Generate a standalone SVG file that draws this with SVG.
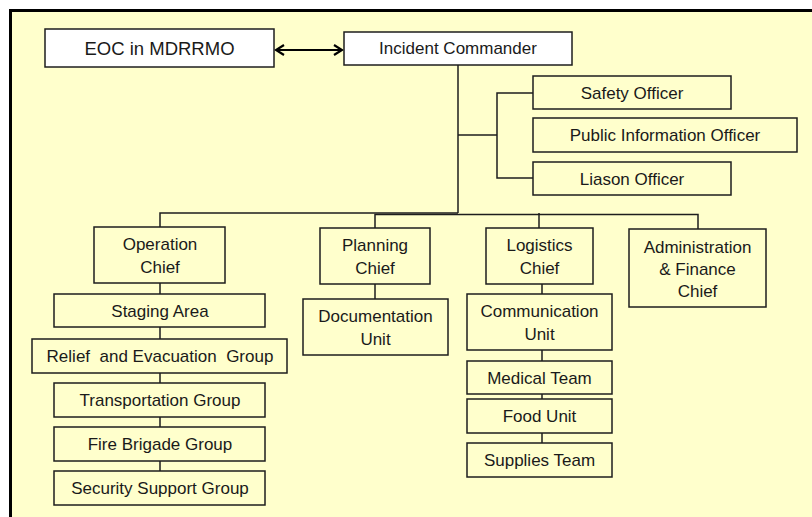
<svg xmlns="http://www.w3.org/2000/svg" width="812" height="517" viewBox="0 0 812 517">
  <style>
    .box { stroke: #1e1e1e; stroke-width: 1.5; }
    .w { fill: #ffffff; }
    .y { fill: #ffffcc; }
    .lbl { font-family: "Liberation Sans", Arial, sans-serif; font-size: 17px; fill: #1a1a1a; text-anchor: middle; }
    .big { font-size: 18.5px; }
    .conn { fill: none; stroke: #1e1e1e; stroke-width: 1.5; }
  </style>
  <defs>
    <marker id="chev" viewBox="0 0 12 12" refX="10" refY="6" markerWidth="12" markerHeight="12" markerUnits="userSpaceOnUse" orient="auto-start-reverse">
      <path d="M2,1 L10,6 L2,11" fill="none" stroke="#000" stroke-width="2.2"/>
    </marker>
  </defs>

  <!-- page background and frame -->
  <rect x="0" y="0" width="812" height="517" fill="#ffffff"/>
  <rect x="10.5" y="10.5" width="820" height="520" fill="#ffffcc" stroke="#000" stroke-width="3"/>

  <!-- connectors -->
  <g id="connectors">
    <line x1="276" y1="50" x2="342" y2="50" stroke="#000" stroke-width="2" marker-start="url(#chev)" marker-end="url(#chev)"/>
    <path class="conn" d="M458,65 V213"/>
    <path class="conn" d="M458,135 H497"/>
    <path class="conn" d="M533,93 H497 V178 H533"/>
    <path class="conn" d="M160,227 V213 H458"/>
    <path class="conn" d="M375,228 V214.5 H698 V229"/>
    <path class="conn" d="M539,213 V228"/>
    <path class="conn" d="M160,283 V294 M160,327 V339 M160,373 V383 M160,417 V427 M160,461 V471"/>
    <path class="conn" d="M375,284 V299"/>
    <path class="conn" d="M542,284 V294 M542,350 V361 M542,394 V399 M542,433 V443"/>
  </g>

  <g id="eoc">
    <rect class="box w" x="45" y="29" width="229" height="38"/>
    <text class="lbl big" x="159.5" y="54.5">EOC in MDRRMO</text>
  </g>
  <g id="incident-commander">
    <rect class="box w" x="344" y="32" width="228" height="33"/>
    <text class="lbl" x="458" y="54">Incident Commander</text>
  </g>

  <g id="safety-officer">
    <rect class="box y" x="533" y="76" width="198" height="33"/>
    <text class="lbl" x="632" y="98.5">Safety Officer</text>
  </g>
  <g id="public-information-officer">
    <rect class="box y" x="533" y="118" width="264" height="34"/>
    <text class="lbl" x="665" y="141">Public Information Officer</text>
  </g>
  <g id="liason-officer">
    <rect class="box y" x="533" y="162" width="198" height="33"/>
    <text class="lbl" x="632" y="184.5">Liason Officer</text>
  </g>

  <g id="operation-chief">
    <rect class="box y" x="94" y="227" width="131" height="56"/>
    <text class="lbl" x="160" y="250">Operation</text>
    <text class="lbl" x="160" y="273">Chief</text>
  </g>
  <g id="staging-area">
    <rect class="box y" x="54" y="294" width="211" height="33"/>
    <text class="lbl" x="160" y="316.5">Staging Area</text>
  </g>
  <g id="relief-evacuation">
    <rect class="box y" x="32" y="339" width="255" height="34"/>
    <text class="lbl" x="160" y="362" xml:space="preserve">Relief  and Evacuation  Group</text>
  </g>
  <g id="transportation">
    <rect class="box y" x="54" y="383" width="211" height="34"/>
    <text class="lbl" x="160" y="406">Transportation Group</text>
  </g>
  <g id="fire-brigade">
    <rect class="box y" x="54" y="427" width="211" height="34"/>
    <text class="lbl" x="160" y="450">Fire Brigade Group</text>
  </g>
  <g id="security-support">
    <rect class="box y" x="54" y="471" width="211" height="34"/>
    <text class="lbl" x="160" y="494">Security Support Group</text>
  </g>

  <g id="planning-chief">
    <rect class="box y" x="320" y="228" width="110" height="56"/>
    <text class="lbl" x="375" y="251">Planning</text>
    <text class="lbl" x="375" y="274">Chief</text>
  </g>
  <g id="documentation-unit">
    <rect class="box y" x="303" y="299" width="145" height="56"/>
    <text class="lbl" x="375.5" y="322">Documentation</text>
    <text class="lbl" x="375.5" y="345">Unit</text>
  </g>

  <g id="logistics-chief">
    <rect class="box y" x="486" y="228" width="107" height="56"/>
    <text class="lbl" x="539.5" y="251">Logistics</text>
    <text class="lbl" x="539.5" y="274">Chief</text>
  </g>
  <g id="communication-unit">
    <rect class="box y" x="467" y="294" width="145" height="56"/>
    <text class="lbl" x="539.5" y="317">Communication</text>
    <text class="lbl" x="539.5" y="340">Unit</text>
  </g>
  <g id="medical-team">
    <rect class="box y" x="467" y="361" width="145" height="33"/>
    <text class="lbl" x="539.5" y="383.5">Medical Team</text>
  </g>
  <g id="food-unit">
    <rect class="box y" x="467" y="399" width="145" height="34"/>
    <text class="lbl" x="539.5" y="422">Food Unit</text>
  </g>
  <g id="supplies-team">
    <rect class="box y" x="467" y="443" width="145" height="34"/>
    <text class="lbl" x="539.5" y="466">Supplies Team</text>
  </g>

  <g id="admin-finance-chief">
    <rect class="box y" x="629" y="229" width="137" height="78"/>
    <text class="lbl" x="697.5" y="253">Administration</text>
    <text class="lbl" x="697.5" y="275">&amp; Finance</text>
    <text class="lbl" x="697.5" y="297">Chief</text>
  </g>
</svg>
